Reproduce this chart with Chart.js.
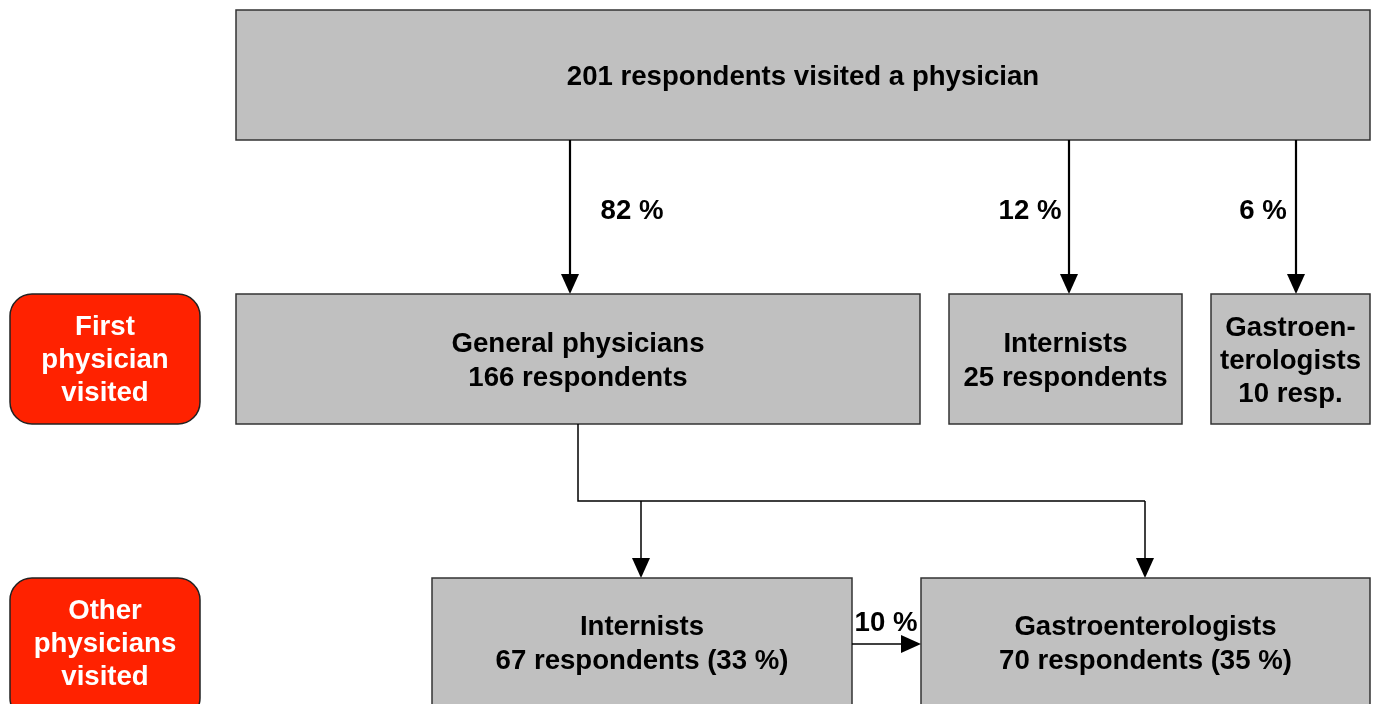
<!DOCTYPE html>
<html>
<head>
<meta charset="utf-8">
<script src="https://cdn.jsdelivr.net/npm/chart.js@4/dist/chart.umd.min.js"></script>
<style>
  html, body { margin: 0; padding: 0; background: #fff; }
  #wrap { width: 1375px; height: 704px; }
</style>
</head>
<body>
<div id="wrap"><canvas id="flow" width="1375" height="704"></canvas></div>
<script>
// ─── Data ────────────────────────────────────────────
const totalRespondents = 201;
const firstLabels = ['General physicians', 'Internists', 'Gastroen-\nterologists'];
const firstCounts = [166, 25, 10];
const firstUnits  = ['respondents', 'respondents', 'resp.'];
const firstShares = [82, 12, 6];
const otherLabels = ['Internists', 'Gastroenterologists'];
const otherCounts = [67, 70];
const otherShares = [33, 35];
const transferShare = 10;
const rowLabels = ['First\nphysician\nvisited', 'Other\nphysicians\nvisited'];

// ─── Layout (axis units == pixels) ───────────────────
const TOP_BOX   = { x0: 236, x1: 1370, y0: 10, y1: 140 };
const ROW1      = { y0: 294, y1: 424 };
const ROW1_X    = [[236, 920], [949, 1182], [1211, 1370]];
const ROW1_ARROW_X = [570, 1069, 1296];
const ROW1_PCT_X   = [632, 1030, 1263];
const ROW2      = { y0: 578, y1: 720 };
const ROW2_X    = [[432, 852], [921, 1370]];
const ROW2_ARROW_X = [641, 1145];
const SPLIT     = { x: 578, y: 501 };
const SIDE_X    = [10, 200];
const SIDE_Y    = [[294, 424], [578, 720]];

const BOX_FILL = '#c0c0c0';
const BOX_EDGE = '#333333';
const RED      = '#ff2200';
const FONT     = "bold 27.6px 'Liberation Sans', Arial, sans-serif";

function drawLines(ctx, lines, cx, cy, lh) {
  const top = cy - (lines.length - 1) * lh / 2;
  lines.forEach((t, i) => ctx.fillText(t, cx, top + i * lh));
}

function arrowHead(ctx, x, y, dir) {
  const w = 9, h = 20;
  ctx.beginPath();
  if (dir === 'down') {
    ctx.moveTo(x, y); ctx.lineTo(x - w, y - h); ctx.lineTo(x + w, y - h);
  } else {
    ctx.moveTo(x, y); ctx.lineTo(x - h, y - w); ctx.lineTo(x - h, y + w);
  }
  ctx.closePath();
  ctx.fill();
}

const flowPlugin = {
  id: 'flow',
  afterDatasetsDraw(chart) {
    const { ctx, scales: { x, y } } = chart;
    const px = v => x.getPixelForValue(v);
    const py = v => y.getPixelForValue(v);

    const box = (x0, x1, y0, y1) => {
      ctx.fillStyle = BOX_FILL;
      ctx.strokeStyle = BOX_EDGE;
      ctx.lineWidth = 1.5;
      ctx.fillRect(px(x0), py(y0), px(x1) - px(x0), py(y1) - py(y0));
      ctx.strokeRect(px(x0), py(y0), px(x1) - px(x0), py(y1) - py(y0));
    };

    ctx.save();
    ctx.font = FONT;
    ctx.textAlign = 'center';
    ctx.textBaseline = 'middle';

    // top box
    box(TOP_BOX.x0, TOP_BOX.x1, TOP_BOX.y0, TOP_BOX.y1);
    ctx.fillStyle = '#000';
    ctx.fillText(totalRespondents + ' respondents visited a physician',
      px((TOP_BOX.x0 + TOP_BOX.x1) / 2), py(77));

    // arrows to first level
    ctx.strokeStyle = '#000';
    ctx.fillStyle = '#000';
    ctx.lineWidth = 2.2;
    ROW1_ARROW_X.forEach((ax, i) => {
      ctx.beginPath();
      ctx.moveTo(px(ax), py(TOP_BOX.y1));
      ctx.lineTo(px(ax), py(ROW1.y0) - 10);
      ctx.stroke();
      arrowHead(ctx, px(ax), py(ROW1.y0), 'down');
      ctx.fillText(firstShares[i] + ' %', px(ROW1_PCT_X[i]), py(211));
    });

    // first level boxes
    ROW1_X.forEach(([x0, x1], i) => {
      box(x0, x1, ROW1.y0, ROW1.y1);
      ctx.fillStyle = '#000';
      const lines = firstLabels[i].split('\n').concat(firstCounts[i] + ' ' + firstUnits[i]);
      drawLines(ctx, lines, px((x0 + x1) / 2), py(lines.length === 2 ? 361 : 361), lines.length === 2 ? 34 : 33);
    });

    // split connector from general physicians
    ctx.strokeStyle = '#000';
    ctx.fillStyle = '#000';
    ctx.lineWidth = 1.5;
    ctx.beginPath();
    ctx.moveTo(px(SPLIT.x), py(ROW1.y1));
    ctx.lineTo(px(SPLIT.x), py(SPLIT.y));
    ctx.lineTo(px(ROW2_ARROW_X[1]), py(SPLIT.y));
    ctx.stroke();
    ROW2_ARROW_X.forEach(ax => {
      ctx.beginPath();
      ctx.moveTo(px(ax), py(SPLIT.y));
      ctx.lineTo(px(ax), py(ROW2.y0) - 10);
      ctx.stroke();
      arrowHead(ctx, px(ax), py(ROW2.y0), 'down');
    });

    // second level boxes
    ROW2_X.forEach(([x0, x1], i) => {
      box(x0, x1, ROW2.y0, ROW2.y1);
      ctx.fillStyle = '#000';
      const lines = [otherLabels[i], otherCounts[i] + ' respondents (' + otherShares[i] + ' %)'];
      drawLines(ctx, lines, px((x0 + x1) / 2), py(644), 34);
    });

    // transfer arrow internists -> gastro
    ctx.strokeStyle = '#000';
    ctx.fillStyle = '#000';
    ctx.lineWidth = 1.5;
    ctx.beginPath();
    ctx.moveTo(px(ROW2_X[0][1]), py(644));
    ctx.lineTo(px(ROW2_X[1][0]) - 10, py(644));
    ctx.stroke();
    arrowHead(ctx, px(ROW2_X[1][0]), py(644), 'right');
    ctx.fillText(transferShare + ' %', px(886), py(623));

    // red side labels
    rowLabels.forEach((lab, i) => {
      const [y0, y1] = SIDE_Y[i];
      ctx.beginPath();
      ctx.roundRect(px(SIDE_X[0]), py(y0), px(SIDE_X[1]) - px(SIDE_X[0]), py(y1) - py(y0), 22);
      ctx.fillStyle = RED;
      ctx.fill();
      ctx.strokeStyle = '#222';
      ctx.lineWidth = 1.5;
      ctx.stroke();
      ctx.fillStyle = '#fff';
      const cy = i === 0 ? 360.5 : 644;
      drawLines(ctx, lab.split('\n'), px((SIDE_X[0] + SIDE_X[1]) / 2), py(cy), 33);
    });

    ctx.restore();
  },
};

new Chart(document.getElementById('flow'), {
  type: 'scatter',
  data: { datasets: [{ data: [], pointRadius: 0 }] },
  options: {
    responsive: false,
    animation: false,
    events: [],
    layout: { padding: 0 },
    plugins: { legend: { display: false }, tooltip: { enabled: false } },
    scales: {
      x: { type: 'linear', min: 0, max: 1375, display: false },
      y: { type: 'linear', min: 0, max: 704, reverse: true, display: false },
    },
  },
  plugins: [flowPlugin],
});
</script>
</body>
</html>
